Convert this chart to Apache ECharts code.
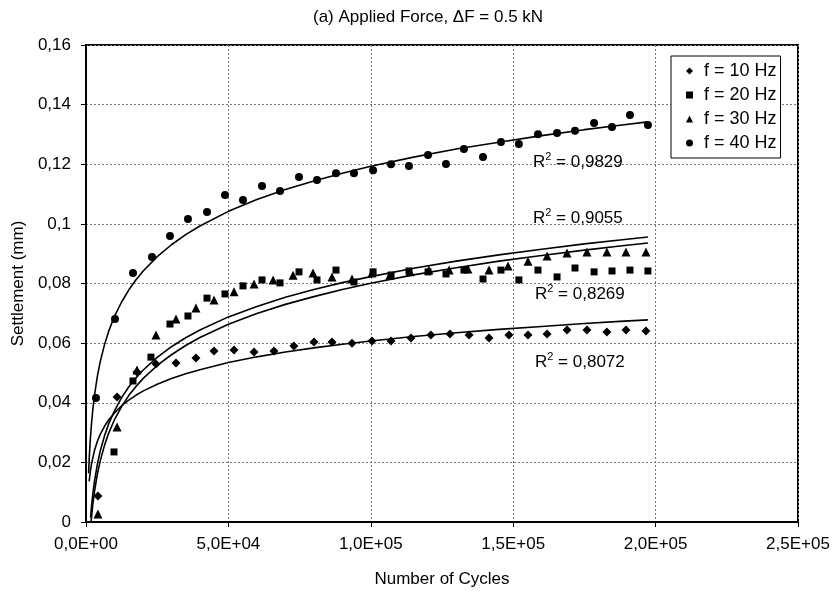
<!DOCTYPE html>
<html>
<head>
<meta charset="utf-8">
<title>Applied Force 0.5 kN</title>
<script src="https://cdn.jsdelivr.net/npm/echarts@6/dist/echarts.min.js"></script>
<style>
    html, body { margin: 0; padding: 0; background: #fff; }
    #mainChart { width: 836px; height: 596px; }
</style>
</head>
<body>
<div id="mainChart"></div>
<script>
/** ----------------数据------------------------- */
var seriesNames = ['f = 10 Hz', 'f = 20 Hz', 'f = 30 Hz', 'f = 40 Hz'];
var seriesSymbols = ['diamond', 'rect', 'triangle', 'circle'];
var symbolSizes = [9, 7, 9, 8];

// [cycles, settlement mm]
var f10 = [[4200,0.0087],[10900,0.0419],[17900,0.0503],[24580,0.053],[31600,0.0533],[38600,0.055],
    [44940,0.0574],[51970,0.0577],[59000,0.057],[66000,0.0574],[73000,0.059],[80060,0.0604],
    [86380,0.0604],[93400,0.060],[100400,0.0607],[107100,0.0607],[114100,0.0617],[121100,0.0627],
    [127800,0.0631],[134500,0.0627],[141500,0.0617],[148500,0.0627],[155200,0.0627],[161900,0.0631],
    [168900,0.0644],[175900,0.0644],[182900,0.0637],[189600,0.0644],[196600,0.0641]];
var f20 = [[9830,0.0235],[16500,0.0473],[22800,0.0553],[29490,0.0664],[35800,0.0691],[42490,0.0751],
    [48800,0.0765],[55130,0.0792],[61800,0.0812],[68120,0.0802],[74790,0.0839],[81110,0.0812],
    [87780,0.0845],[94100,0.0805],[100800,0.0839],[107100,0.0828],[113400,0.0842],[120100,0.0839],
    [126400,0.0832],[132700,0.0845],[139400,0.0815],[145700,0.0845],[152000,0.0812],[158700,0.0845],
    [165400,0.0822],[171700,0.0852],[178400,0.0839],[184700,0.0842],[191000,0.0845],[197300,0.0842]];
var f30 = [[4200,0.0027],[10900,0.0319],[17900,0.051],[24580,0.0627],[31600,0.0681],[38600,0.0718],
    [44940,0.0745],[51970,0.0772],[59000,0.0798],[65700,0.0812],[72700,0.0828],[79700,0.0835],
    [86380,0.0822],[93400,0.0815],[100400,0.0835],[106700,0.0828],[113800,0.0839],[120400,0.0845],
    [127500,0.0845],[134100,0.0849],[141500,0.0845],[148200,0.0859],[155200,0.0875],[161900,0.0892],
    [168900,0.0902],[175900,0.0906],[182900,0.0906],[189600,0.0906],[196600,0.0906]];
var f40 = [[3500,0.0416],[10180,0.0681],[16500,0.0835],[23170,0.0889],[29490,0.0959],[35800,0.1016],
    [42490,0.104],[48800,0.1097],[55130,0.108],[61800,0.1127],[68120,0.111],[74790,0.1157],
    [81110,0.1147],[87780,0.117],[94100,0.117],[100800,0.118],[107100,0.120],[113400,0.1194],
    [120100,0.1231],[126400,0.1201],[132700,0.1251],[139400,0.1224],[145700,0.1275],[152000,0.1268],
    [158700,0.1301],[165400,0.1305],[171700,0.1312],[178400,0.1338],[184700,0.1325],[191000,0.1365],
    [197300,0.1332]];

// 趋势线 (读图取点)
var trend10 = [[1100,0.0136],[1500,0.0168],[2000,0.0198],[3000,0.0241],[4000,0.0271],[5000,0.0294],
    [6500,0.0321],[8000,0.0343],[10000,0.0366],[12500,0.0390],[15000,0.0409],[17500,0.0425],
    [20000,0.0439],[25000,0.0462],[30000,0.0481],[35000,0.0497],[40000,0.0511],[50000,0.0535],
    [60000,0.0554],[70000,0.0570],[80000,0.0584],[90000,0.0596],[100000,0.0607],[115000,0.0622],
    [130000,0.0635],[145000,0.0646],[160000,0.0656],[175000,0.0666],[187500,0.0673],[197300,0.0678]];
var trend20 = [[1800,0.0002],[2000,0.0023],[2500,0.0067],[3000,0.0104],[4000,0.0161],[5000,0.0205],
    [6500,0.0257],[8000,0.0299],[10000,0.0343],[12500,0.0387],[15000,0.0424],[17500,0.0454],
    [20000,0.0481],[25000,0.0525],[30000,0.0561],[35000,0.0592],[40000,0.0619],[50000,0.0663],
    [60000,0.0699],[70000,0.0730],[80000,0.0756],[90000,0.0780],[100000,0.0801],[115000,0.0829],
    [130000,0.0853],[145000,0.0875],[160000,0.0894],[175000,0.0912],[187500,0.0926],[197300,0.0936]];
var trend30 = [[1600,0.0015],[2000,0.0059],[2500,0.0102],[3000,0.0138],[4000,0.0194],[5000,0.0238],
    [6500,0.0289],[8000,0.0330],[10000,0.0373],[12500,0.0417],[15000,0.0453],[17500,0.0483],
    [20000,0.0509],[25000,0.0552],[30000,0.0588],[35000,0.0618],[40000,0.0644],[50000,0.0688],
    [60000,0.0723],[70000,0.0754],[80000,0.0780],[90000,0.0803],[100000,0.0823],[115000,0.0851],
    [130000,0.0875],[145000,0.0896],[160000,0.0915],[175000,0.0933],[187500,0.0946],[197300,0.0956]];
var trend40 = [[900,0.0163],[1200,0.0226],[1500,0.0275],[2000,0.0338],[2500,0.0386],[3000,0.0426],
    [4000,0.0489],[5000,0.0538],[6500,0.0595],[8000,0.0641],[10000,0.0690],[12500,0.0738],
    [15000,0.0778],[17500,0.0812],[20000,0.0841],[25000,0.0890],[30000,0.0930],[35000,0.0964],
    [40000,0.0993],[50000,0.1042],[60000,0.1082],[70000,0.1115],[80000,0.1144],[90000,0.1170],
    [100000,0.1193],[115000,0.1224],[130000,0.1251],[145000,0.1274],[160000,0.1296],[175000,0.1316],
    [187500,0.1331],[197300,0.1342]];

var rSquared = ['0,8072', '0,8269', '0,9055', '0,9829'];

var fontName = "'Liberation Sans', Arial, sans-serif";

/** --------格式化 ------ */
function formatY(v) {
    return String(+v.toFixed(2)).replace('.', ',');
}
function formatX(v) {
    if (v === 0) return '0,0E+00';
    var exp = Math.floor(Math.log10(v));
    var mant = (v / Math.pow(10, exp)).toFixed(1).replace('.', ',');
    return mant + 'E+' + (exp < 10 ? '0' + exp : exp);
}

function rLabel(text, x, y) {
    return {
        type: 'text',
        left: x,
        top: y,
        z: 10,
        style: {
            text: '{r|R}{s|2}{r| = ' + text + '}',
            rich: {
                r: { fontSize: 17, fontFamily: fontName, fill: '#000', lineHeight: 20, verticalAlign: 'bottom' },
                s: { fontSize: 11, fontFamily: fontName, fill: '#000', lineHeight: 20, verticalAlign: 'top' }
            }
        }
    };
}

/** --------图表 ------ */
var chart = echarts.init(document.getElementById('mainChart'));
var scatterData = [f10, f20, f30, f40];
var trendData = [trend10, trend20, trend30, trend40];
var seriesArray = [];

for (var i = 0; i < trendData.length; i++) {
    seriesArray.push({
        name: 'trend' + i,
        type: 'line',
        data: trendData[i],
        showSymbol: false,
        symbol: 'none',
        silent: true,
        z: 2,
        lineStyle: { color: '#000', width: 1.6 }
    });
}
for (var j = 0; j < scatterData.length; j++) {
    seriesArray.push({
        name: seriesNames[j],
        type: 'scatter',
        data: scatterData[j],
        symbol: seriesSymbols[j],
        symbolSize: symbolSizes[j],
        z: 3,
        itemStyle: { color: '#000', opacity: 1 }
    });
}

var option = {
    animation: false,
    backgroundColor: '#fff',
    textStyle: { fontFamily: fontName, color: '#000' },
    grid: { left: 86, right: 38, top: 45, bottom: 74, show: true, borderColor: '#000', borderWidth: 2, backgroundColor: '#fff' },
    legend: {
        data: seriesNames,
        orient: 'vertical',
        left: 671,
        top: 56,
        backgroundColor: '#fff',
        borderColor: '#000',
        borderWidth: 1,
        padding: [6, 4, 6, 15],
        itemGap: 6,
        itemWidth: 7,
        itemHeight: 7,
        textStyle: { fontSize: 18, color: '#000', fontFamily: fontName, padding: [0, 0, 0, 6] }
    },
    xAxis: {
        type: 'value',
        min: 0,
        max: 250000,
        interval: 50000,
        name: 'Number of Cycles',
        nameLocation: 'middle',
        nameGap: 49,
        nameTextStyle: { fontSize: 17, color: '#000' },
        axisLine: { lineStyle: { color: '#000', width: 2 } },
        axisTick: { show: true, length: 5, lineStyle: { color: '#000' } },
        axisLabel: { fontSize: 17, color: '#000', margin: 14, formatter: formatX },
        splitLine: { show: true, lineStyle: { color: '#777', type: [2, 2], width: 1 } }
    },
    yAxis: {
        type: 'value',
        min: 0,
        max: 0.16,
        interval: 0.02,
        name: 'Settlement (mm)',
        nameLocation: 'middle',
        nameGap: 56,
        nameTextStyle: { fontSize: 17, color: '#000' },
        axisLine: { show: true, lineStyle: { color: '#000', width: 2 } },
        axisTick: { show: true, length: 5, lineStyle: { color: '#000' } },
        axisLabel: { fontSize: 17, color: '#000', margin: 15, formatter: formatY },
        splitLine: { show: true, lineStyle: { color: '#777', type: [2, 2], width: 1 } }
    },
    graphic: [
        {
            type: 'text',
            left: 313,
            top: 9,
            style: { text: '(a) Applied Force, \u0394F = 0.5 kN', fontSize: 17, fontFamily: fontName, fill: '#000' }
        },
        rLabel(rSquared[3], 533, 151),
        rLabel(rSquared[2], 533, 207),
        rLabel(rSquared[1], 535, 283),
        rLabel(rSquared[0], 535, 351)
    ],
    series: seriesArray
};
chart.setOption(option);
</script>
</body>
</html>
